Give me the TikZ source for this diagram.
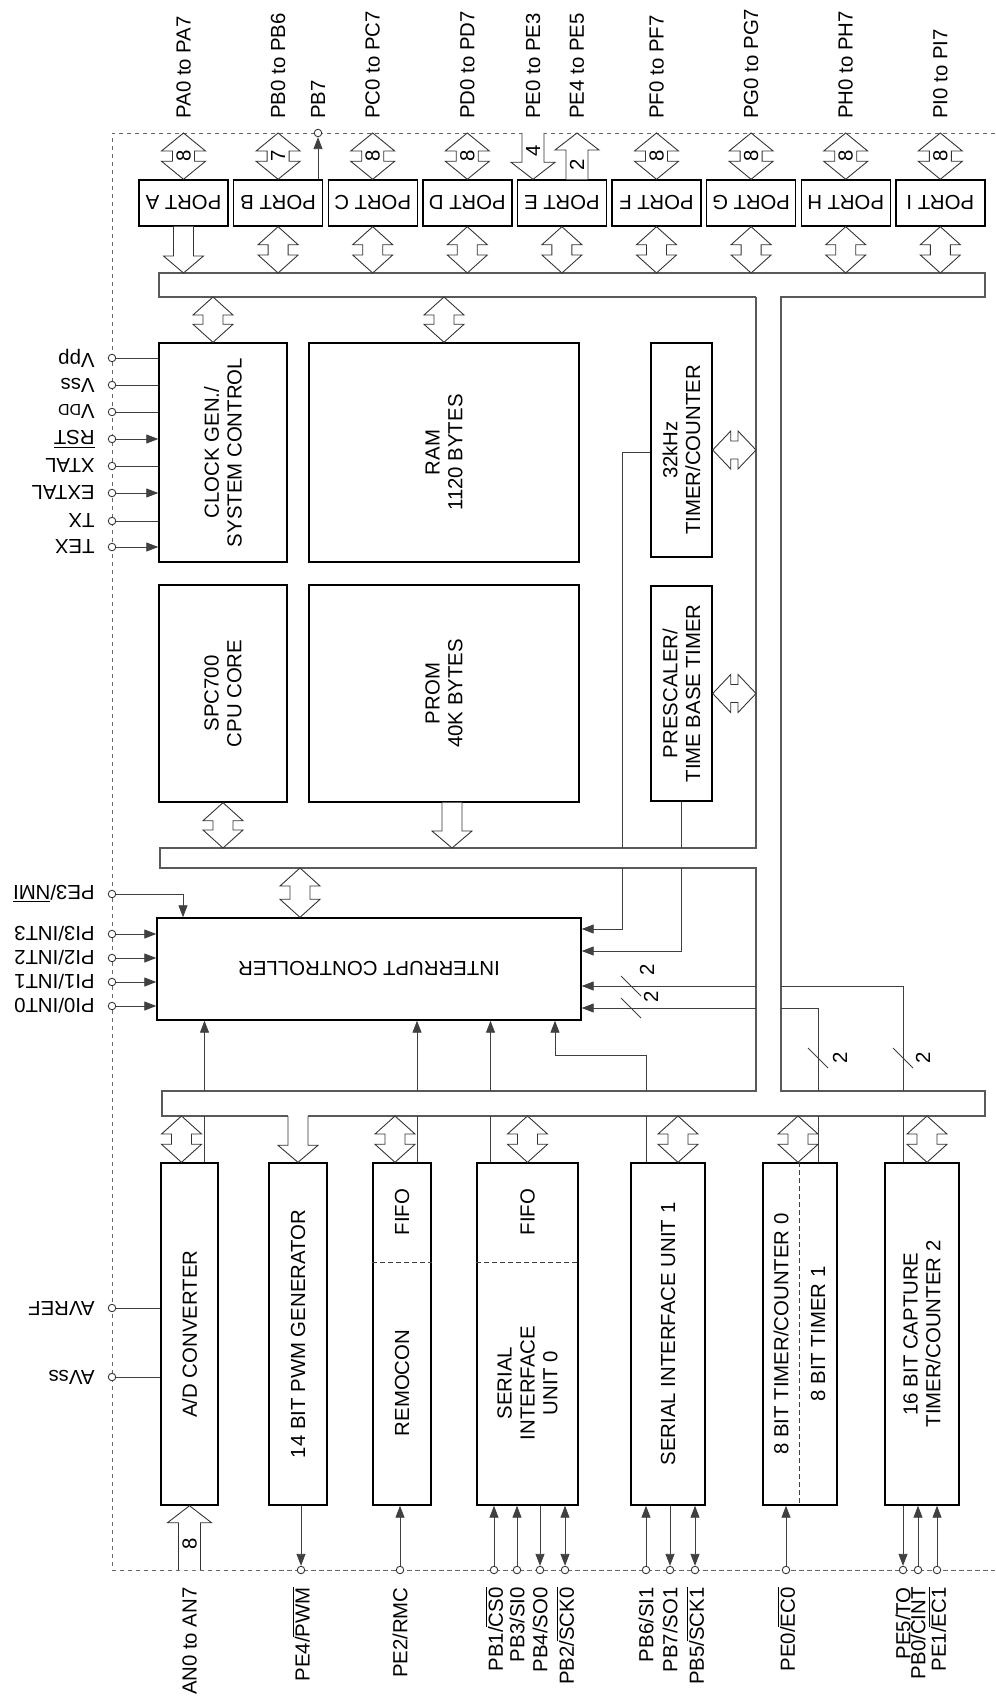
\documentclass[tikz,border=0pt]{standalone}
\usepackage{fontspec}
\setmainfont{Liberation Sans}
\usetikzlibrary{arrows.meta,calc,fit}

% hollow bus arrows: [half width]{tip}{tip}
\newcommand{\dblv}[3][20]{\draw[fat] (#2) -- ++(-#1,18) -- ++({#1/2},0) -- ($(#3)+({-#1/2},-18)$) -- ++({-#1/2},0) -- (#3)
    -- ++(#1,-18) -- ++({-#1/2},0) -- ($(#2)+({#1/2},18)$) -- ++({#1/2},0) -- cycle;}
\newcommand{\dblh}[2]{\draw[fat] (#1) -- ++(18,-19) -- ++(0,10) -- ($(#2)+(-18,-9)$) -- ++(0,-10) -- (#2)
    -- ++(-18,19) -- ++(0,-10) -- ($(#1)+(18,9)$) -- ++(0,10) -- cycle;}
\newcommand{\fatdn}[3][20]{\draw[fat] ($(#2)+({-#1/2},0)$) -- ($(#3)+({-#1/2},-17)$) -- ++({-#1/2},0) -- (#3)
    -- ++(#1,-17) -- ++({-#1/2},0) -- ($(#2)+({#1/2},0)$);}
\newcommand{\fatup}[3][20]{\draw[fat] ($(#2)+({-#1/2},0)$) -- ($(#3)+({-#1/2},17)$) -- ++({-#1/2},0) -- (#3)
    -- ++(#1,17) -- ++({-#1/2},0) -- ($(#2)+({#1/2},0)$);}
\newcommand{\negsig}[1]{$\overline{\hbox{#1}}$}

\begin{document}
\begin{tikzpicture}[x=0.02cm, y=-0.02cm,
        lbl/.style={font=\fontsize{11.6}{13}\selectfont, inner sep=0pt},
        blk/.style={draw, line width=0.8pt, inner sep=0pt},
        bus/.style={draw=black!65, line width=0.6pt},
        fat/.style={draw=black!80, line width=0.5pt, fill=white},
        sig/.style={draw=black!75, line width=0.5pt},
        pinc/.style={circle, draw=black!80, fill=white, line width=0.5pt, minimum size=0.15cm, inner sep=0pt},
        >={Triangle[length=2.4mm, width=1.8mm]}]

    \useasboundingbox (0,0) rectangle (995,1699);
    \draw[black!60, line width=0.5pt, dash pattern=on 0.9mm off 0.7mm] (995,133) -- (112,133) -- (112,1570) -- (995,1570);

    % bus edges
    \coordinate (busT) at (0,273);
    \coordinate (tbB) at (0,297);
    \coordinate (mbT) at (0,848);
    \coordinate (mbB) at (0,868);
    \coordinate (lbT) at (0,1091);
    \coordinate (lbB) at (0,1116);
    \draw[bus] (756,297) -- (159,297) -- (159,273) -- (985,273) -- (985,297) -- (781,297) -- (781,1091)
        -- (985,1091) -- (985,1116) -- (308,1116);
    \draw[bus] (288,1116) -- (162,1116) -- (162,1091) -- (756,1091) -- (756,868) -- (160,868) -- (160,848)
        -- (756,848) -- (756,297);

    % ports
    \foreach \p [count=\i from 0] in {A,B,C,D,E,F,G,H,I} {
        \pgfmathsetmacro\xl{139+94.6*\i}
        \node[blk, fit={(\xl,180) (\xl+89,226)}] (port\p) {};
        \node[lbl, rotate=180] at (port\p) {PORT \p};
    }
    \foreach \p/\n/\t in {A/8/PA0 to PA7, B/7/PB0 to PB6, C/8/PC0 to PC7, D/8/PD0 to PD7,
            F/8/PF0 to PF7, G/8/PG0 to PG7, H/8/PH0 to PH7, I/8/PI0 to PI7} {
        \coordinate (t\p) at (port\p.north |- 0,133);
        \dblv[22]{t\p}{port\p.north}
        \node[lbl, rotate=90] at ($(t\p)!0.5!(port\p.north)$) {\n};
        \node[lbl, rotate=90, anchor=west] at ($(t\p)+(0,-14)$) {\t};
    }
    \foreach \p in {B,C,D,E,F,G,H,I} {
        \coordinate (b\p) at (port\p.south |- busT);
        \dblv{port\p.south}{b\p}
    }
    \coordinate (bA) at (portA.south |- busT);
    \fatdn{portA.south}{bA}

    \coordinate (pe03) at (533,133);
    \coordinate (pe03b) at (pe03 |- portE.north);
    \fatdn[22]{pe03}{pe03b}
    \node[lbl, rotate=90] at (533,151) {4};
    \node[lbl, rotate=90, anchor=west] at ($(pe03)+(0,-14)$) {PE0 to PE3};
    \coordinate (pe45) at (577,133);
    \coordinate (pe45b) at (pe45 |- portE.north);
    \fatup[22]{pe45b}{pe45}
    \node[lbl, rotate=90] at (577,165) {2};
    \node[lbl, rotate=90, anchor=west] at ($(pe45)+(0,-14)$) {PE4 to PE5};

    \node[pinc] (pb7) at (318,133) {};
    \draw[sig,->] (pb7 |- portB.north) -- (pb7);
    \node[lbl, rotate=90, anchor=west] at ($(pb7)+(0,-14)$) {PB7};

    % core blocks
    \node[blk, fit={(159,343) (287,562)}] (clk) {};
    \node[lbl, rotate=90, align=center] at (clk) {CLOCK GEN./\\SYSTEM CONTROL};
    \node[blk, fit={(309,343) (579,562)}] (ram) {};
    \node[lbl, rotate=90, align=center] at (ram) {RAM\\1120 BYTES};
    \node[blk, fit={(651,343) (712,557)}] (tmr32) {};
    \node[lbl, rotate=90, align=center] at (tmr32) {32kHz\\TIMER/COUNTER};
    \node[blk, fit={(159,585) (287,802)}] (cpu) {};
    \node[lbl, rotate=90, align=center] at (cpu) {SPC700\\CPU CORE};
    \node[blk, fit={(309,585) (579,802)}] (prom) {};
    \node[lbl, rotate=90, align=center] at (prom) {PROM\\40K BYTES};
    \node[blk, fit={(651,586) (712,801)}] (pre) {};
    \node[lbl, rotate=90, align=center] at (pre) {PRESCALER/\\TIME BASE TIMER};
    \node[blk, fit={(157,918) (581,1020)}] (intc) {};
    \node[lbl, rotate=180] at (intc) {INTERRUPT CONTROLLER};

    \coordinate (clk1) at ($(clk.north)+(-10,0)$);
    \coordinate (clk0) at (clk1 |- tbB);
    \dblv{clk0}{clk1}
    \coordinate (ram0) at (ram.north |- tbB);
    \dblv{ram0}{ram.north}
    \coordinate (cpu1) at (cpu.south |- mbT);
    \dblv{cpu.south}{cpu1}
    \coordinate (prom0) at ($(prom.south)+(8,0)$);
    \coordinate (prom1) at (prom0 |- mbT);
    \fatdn{prom0}{prom1}
    \coordinate (ic0) at (300,868);
    \coordinate (ic1) at (ic0 |- intc.north);
    \dblv{ic0}{ic1}
    \coordinate (t32) at (tmr32.east -| 756,0);
    \dblh{tmr32.east}{t32}
    \coordinate (pre1) at (pre.east -| 756,0);
    \dblh{pre.east}{pre1}

    \draw[sig] (tmr32.west |- 0,452) -| (622,848);
    \draw[sig,->] (622,868) |- (intc.east |- 0,929);
    \draw[sig] (pre.south) -- (pre.south |- mbT);
    \draw[sig,->] (pre.south |- mbB) |- (intc.east |- 0,951);

    % pins on the left
    \foreach \t/\y/\a in {Vpp/358/-, Vss/385/-, {V{\fontsize{9}{9}\selectfont DD}}/412/-, {\negsig{RST}}/439/->,
            XTAL/466/-, EXTAL/493/->, TX/521/-, TEX/547/->} {
        \node[pinc] (p\y) at (112,\y) {};
        \draw[sig,\a] (p\y) -- (clk.west |- p\y);
        \node[lbl, rotate=180, anchor=west] at ($(p\y)+(-17,0)$) {\t};
    }
    \node[pinc] (p894) at (112,894) {};
    \draw[sig,->] (p894) -| (intc.north -| 183,0);
    \node[lbl, rotate=180, anchor=west] at ($(p894)+(-17,0)$) {PE3/\negsig{NMI}};
    \foreach \t/\y in {{PI3/INT3}/934, {PI2/INT2}/958, {PI1/INT1}/982, {PI0/INT0}/1006} {
        \node[pinc] (p\y) at (112,\y) {};
        \draw[sig,->] (p\y) -- (intc.west |- p\y);
        \node[lbl, rotate=180, anchor=west] at ($(p\y)+(-17,0)$) {\t};
    }

    % peripheral blocks
    \node[blk, fit={(161,1163) (218,1505)}] (adc) {};
    \node[lbl, rotate=90] at (adc) {A/D CONVERTER};
    \node[blk, fit={(269,1163) (327,1505)}] (pwm) {};
    \node[lbl, rotate=90] at (pwm) {14 BIT PWM GENERATOR};
    \node[blk, fit={(373,1163) (431,1505)}] (rmc) {};
    \node[lbl, rotate=90] at (rmc.center |- 0,1212) {FIFO};
    \node[lbl, rotate=90] at (rmc.center |- 0,1383) {REMOCON};
    \node[blk, fit={(477,1163) (578,1505)}] (sio0) {};
    \node[lbl, rotate=90] at (sio0.center |- 0,1212) {FIFO};
    \node[lbl, rotate=90, align=center] at (sio0.center |- 0,1383) {SERIAL\\INTERFACE\\UNIT 0};
    \node[blk, fit={(631,1163) (705,1505)}] (sio1) {};
    \node[lbl, rotate=90] at (sio1) {SERIAL INTERFACE UNIT 1};
    \node[blk, fit={(763,1163) (837,1505)}] (tc0) {};
    \node[lbl, rotate=90] at (781,1334) {8 BIT TIMER/COUNTER 0};
    \node[lbl, rotate=90] at (818,1334) {8 BIT TIMER 1};
    \node[blk, fit={(885,1163) (959,1505)}] (tc2) {};
    \node[lbl, rotate=90, align=center] at (tc2) {16 BIT CAPTURE\\TIMER/COUNTER 2};
    \draw[sig, dash pattern=on 0.9mm off 0.7mm] (rmc.west |- 0,1262) -- (rmc.east |- 0,1262);
    \draw[sig, dash pattern=on 0.9mm off 0.7mm] (sio0.west |- 0,1262) -- (sio0.east |- 0,1262);
    \draw[sig, dash pattern=on 0.9mm off 0.7mm] (tc0.north -| 799,0) -- (tc0.south -| 799,0);

    \foreach \b/\da/\dl in {adc/-8/15, rmc/-7/15, sio0/0/-37, sio1/10/-22, tc0/-2/18, tc2/5/-19} {
        \coordinate (\b-a1) at ($(\b.north)+(\da,0)$);
        \coordinate (\b-a0) at (\b-a1 |- lbB);
        \dblv{\b-a0}{\b-a1}
        \coordinate (\b-l0) at ($(\b.north)+(\dl,0)$);
        \coordinate (\b-l1) at (\b-l0 |- lbB);
        \coordinate (\b-l2) at (\b-l0 |- lbT);
        \draw[sig] (\b-l0) -- (\b-l1);
    }
    \coordinate (pwm0) at (pwm.north |- lbB);
    \fatdn{pwm0}{pwm.north}

    % interrupt requests
    \foreach \b in {adc,rmc,sio0} {
        \draw[sig,->] (\b-l2) -- (\b-l2 |- intc.south);
    }
    \coordinate (jog) at (555,1055);
    \draw[sig,->] (sio1-l2) |- (jog) -- (jog |- intc.south);
    \draw[sig] (tc2-l2) |- (781,986);
    \draw[sig,->] (756,986) -- (intc.east |- 0,986);
    \draw[sig] (tc0-l2) |- (781,1008);
    \draw[sig,->] (756,1008) -- (intc.east |- 0,1008);
    \draw[sig] (621,976) -- (641,996);
    \draw[sig] (621,998) -- (641,1018);
    \draw[sig] (808,1048) -- (828,1068);
    \draw[sig] (893,1048) -- (913,1068);
    \node[lbl, rotate=90] at (647,970) {2};
    \node[lbl, rotate=90] at (651,997) {2};
    \node[lbl, rotate=90] at (840,1058) {2};
    \node[lbl, rotate=90] at (923,1058) {2};

    % analog pins
    \foreach \t/\y in {AVREF/1308, AVss/1377} {
        \node[pinc] (p\y) at (112,\y) {};
        \draw[sig] (p\y) -- (adc.west |- p\y);
        \node[lbl, rotate=180, anchor=west] at ($(p\y)+(-17,0)$) {\t};
    }
    \coordinate (an0) at (adc.south |- 0,1570);
    \fatup[22]{an0}{adc.south}
    \node[lbl, rotate=90] at ($(an0)+(0,-26)$) {8};
    \node[lbl, rotate=90, anchor=east] at ($(an0)+(0,17)$) {AN0 to AN7};

    % pins at the bottom
    \foreach \t/\b/\x/\a in {{PE4/\negsig{PWM}}/pwm/301/->, {PE2/RMC}/rmc/400/<-,
            {PB1/\negsig{CS0}}/sio0/494/<-, {PB3/SI0}/sio0/517/<-, {PB4/SO0}/sio0/540/->,
            {PB2/\negsig{SCK0}}/sio0/565/<->, {PB6/SI1}/sio1/646/<-, {PB7/SO1}/sio1/670/->,
            {PB5/\negsig{SCK1}}/sio1/695/<->, {PE0/\negsig{EC0}}/tc0/786/<-,
            {PE5/TO}/tc2/903/->, {PB0/CINT}/tc2/918/<-, {PE1/\negsig{EC1}}/tc2/937/<-} {
        \node[pinc] (q\x) at (\x,1570) {};
        \draw[sig,\a] (\b.south -| q\x) -- (q\x);
        \node[lbl, rotate=90, anchor=east] at ($(q\x)+(0,17)$) {\t};
    }
\end{tikzpicture}
\end{document}
